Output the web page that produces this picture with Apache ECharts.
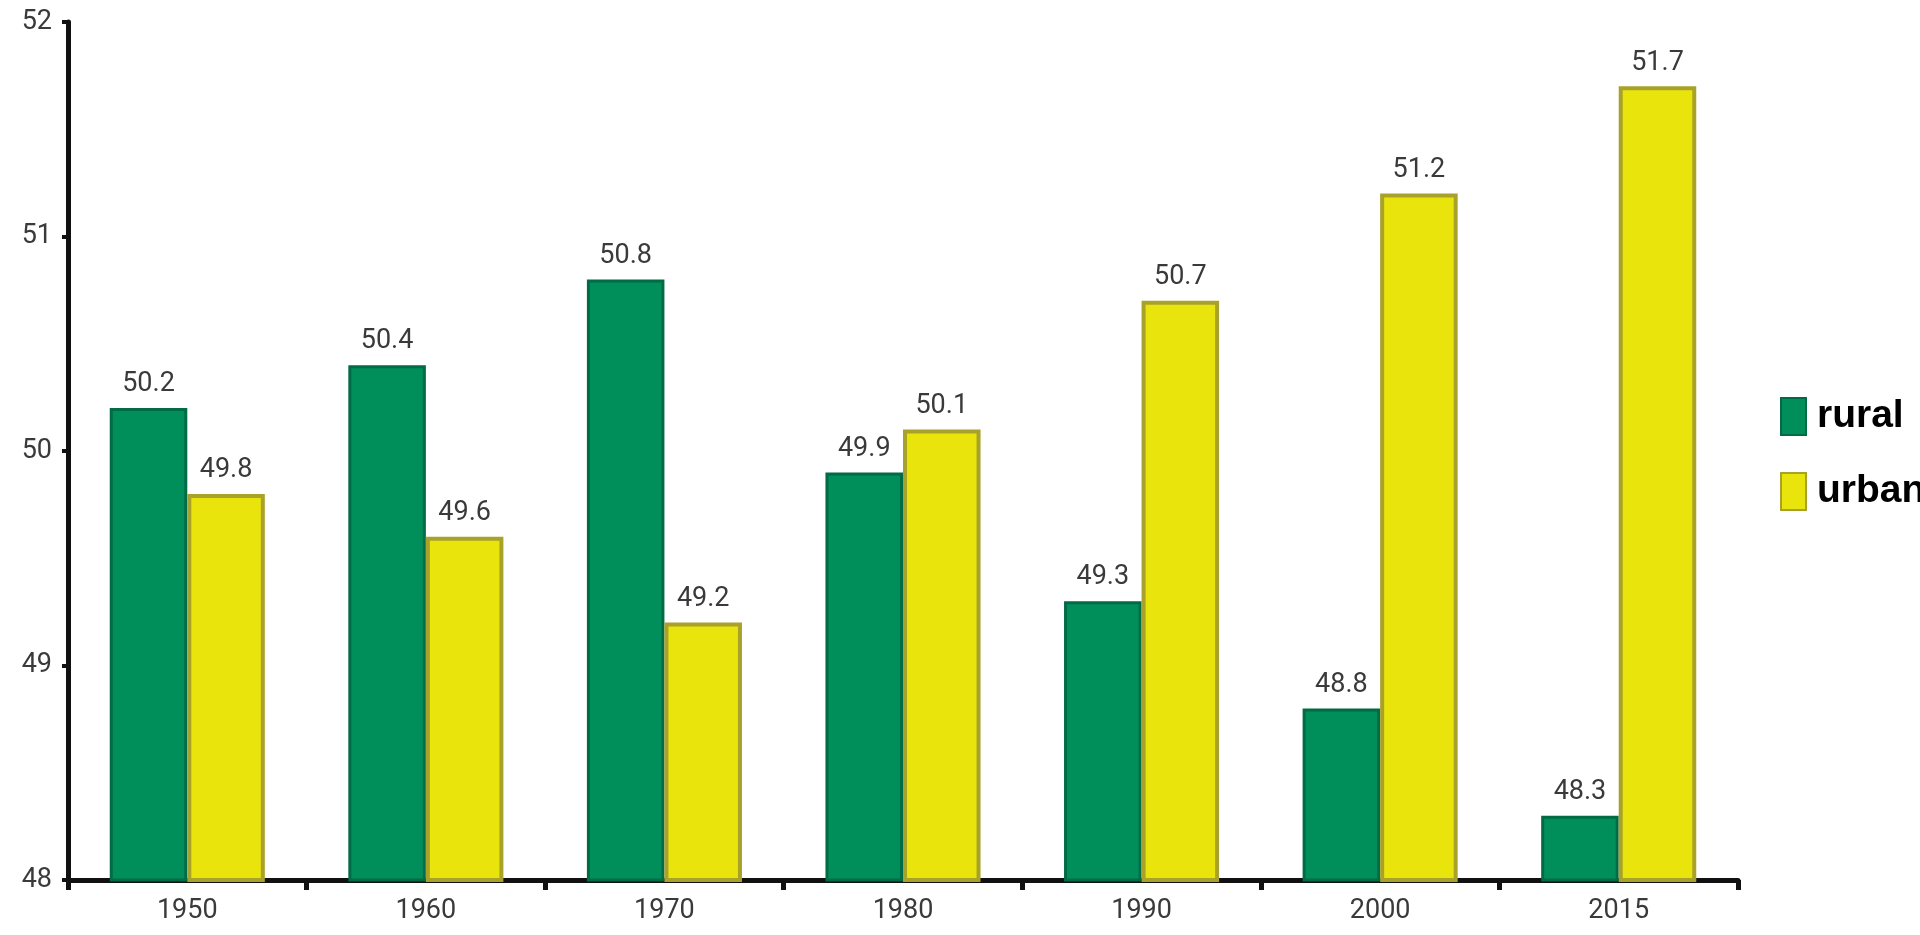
<!DOCTYPE html>
<html>
<head>
<meta charset="utf-8">
<script src="https://cdn.jsdelivr.net/npm/echarts@6/dist/echarts.min.js"></script>
<style>
  html, body { margin: 0; padding: 0; background: #fff; }
  #chart { width: 1920px; height: 935px; }
</style>
</head>
<body>
<div id="chart"></div>
<script>
  // dados
  let anos = ['1950', '1960', '1970', '1980', '1990', '2000', '2015'];
  let rural = [50.2, 50.4, 50.8, 49.9, 49.3, 48.8, 48.3];
  let urbana = [49.8, 49.6, 49.2, 50.1, 50.7, 51.2, 51.7];

  let labelFont = '"Liberation Sans Narrow", "Roboto", sans-serif';

  let myChart = echarts.init(document.getElementById('chart'));
  myChart.setOption({
    animation: false,
    grid: { left: 68, right: 182, top: 22, bottom: 55 },
    legend: {
      orient: 'vertical',
      left: 1775,
      top: 392,
      itemWidth: 25,
      itemHeight: 37,
      itemGap: 36,
      icon: 'rect',
      data: ['rural', 'urbana'],
      textStyle: {
        fontFamily: '"Liberation Sans", Arial, sans-serif',
        fontWeight: 'bold',
        fontSize: 39,
        color: '#000',
        padding: [0, 0, 0, 6]
      }
    },
    xAxis: {
      type: 'category',
      data: anos,
      axisLine: { lineStyle: { color: '#111', width: 5 } },
      axisTick: { show: true, length: 10, lineStyle: { color: '#111', width: 5 } },
      axisLabel: { fontFamily: labelFont, fontSize: 27, color: '#3a3a3a', margin: 18 }
    },
    yAxis: {
      type: 'value',
      min: 48,
      max: 52,
      interval: 1,
      splitLine: { show: false },
      axisLine: { show: true, lineStyle: { color: '#111', width: 5 } },
      axisTick: { show: true, length: 6, lineStyle: { color: '#111', width: 4 } },
      axisLabel: { fontFamily: labelFont, fontSize: 27, color: '#3a3a3a', margin: 16 }
    },
    series: [
      {
        name: 'rural',
        type: 'bar',
        data: rural,
        barGap: '0%',
        barCategoryGap: '35%',
        itemStyle: { color: '#008f5b', borderColor: '#006b45', borderWidth: 3 },
        label: { show: true, position: 'top', distance: 10, fontFamily: labelFont, fontSize: 27, color: '#3a3a3a' }
      },
      {
        name: 'urbana',
        type: 'bar',
        data: urbana,
        itemStyle: { color: '#e8e40c', borderColor: '#a9a22a', borderWidth: 4 },
        label: { show: true, position: 'top', distance: 10, fontFamily: labelFont, fontSize: 27, color: '#3a3a3a' }
      }
    ]
  });
</script>
</body>
</html>
